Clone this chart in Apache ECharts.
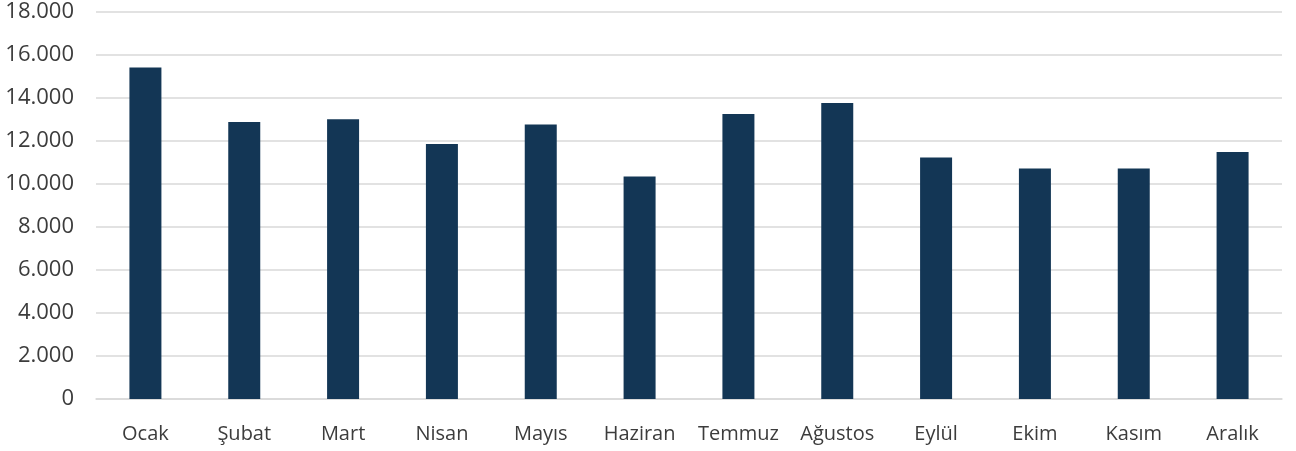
<!DOCTYPE html>
<html>
<head>
<meta charset="utf-8">
<script src="https://cdn.jsdelivr.net/npm/echarts@6/dist/echarts.min.js"></script>
<style>html,body{margin:0;padding:0;background:#fff}#c{width:1296px;height:451px}</style>
</head>
<body>
<div id="c"></div>
<script>
const categories = ['Ocak','Şubat','Mart','Nisan','Mayıs','Haziran','Temmuz','Ağustos','Eylül','Ekim','Kasım','Aralık'];
const values = [15400, 12870, 12990, 11850, 12750, 10330, 13240, 13750, 11220, 10710, 10710, 11470];
const yMin = 0, yMax = 18000, yStep = 2000;

const chart = echarts.init(document.getElementById('c'));
chart.setOption({
  backgroundColor: '#ffffff',
  animation: false,
  grid: { left: 96, right: 14, top: 11.5, bottom: 52, containLabel: false },
  xAxis: {
    type: 'category',
    data: categories,
    axisLine: { show: true, lineStyle: { color: '#d9d9d9', width: 1.5 } },
    axisTick: { show: false },
    axisLabel: { interval: 0, hideOverlap: false, color: '#3c3c3c', fontFamily: '"Open Sans", sans-serif', fontSize: 20, margin: 25 }
  },
  yAxis: {
    type: 'value',
    min: yMin, max: yMax, interval: yStep,
    axisLine: { show: false },
    axisTick: { show: false },
    splitLine: { lineStyle: { color: '#d9d9d9', width: 1.5 } },
    axisLabel: {
      color: '#3c3c3c', fontFamily: '"Open Sans", sans-serif', fontSize: 22, margin: 22,
      formatter: v => v === 0 ? '0' : v.toLocaleString('de-DE')
    }
  },
  series: [{
    type: 'bar',
    data: values,
    barWidth: 32,
    itemStyle: { color: '#133655' }
  }]
});
</script>
</body>
</html>
